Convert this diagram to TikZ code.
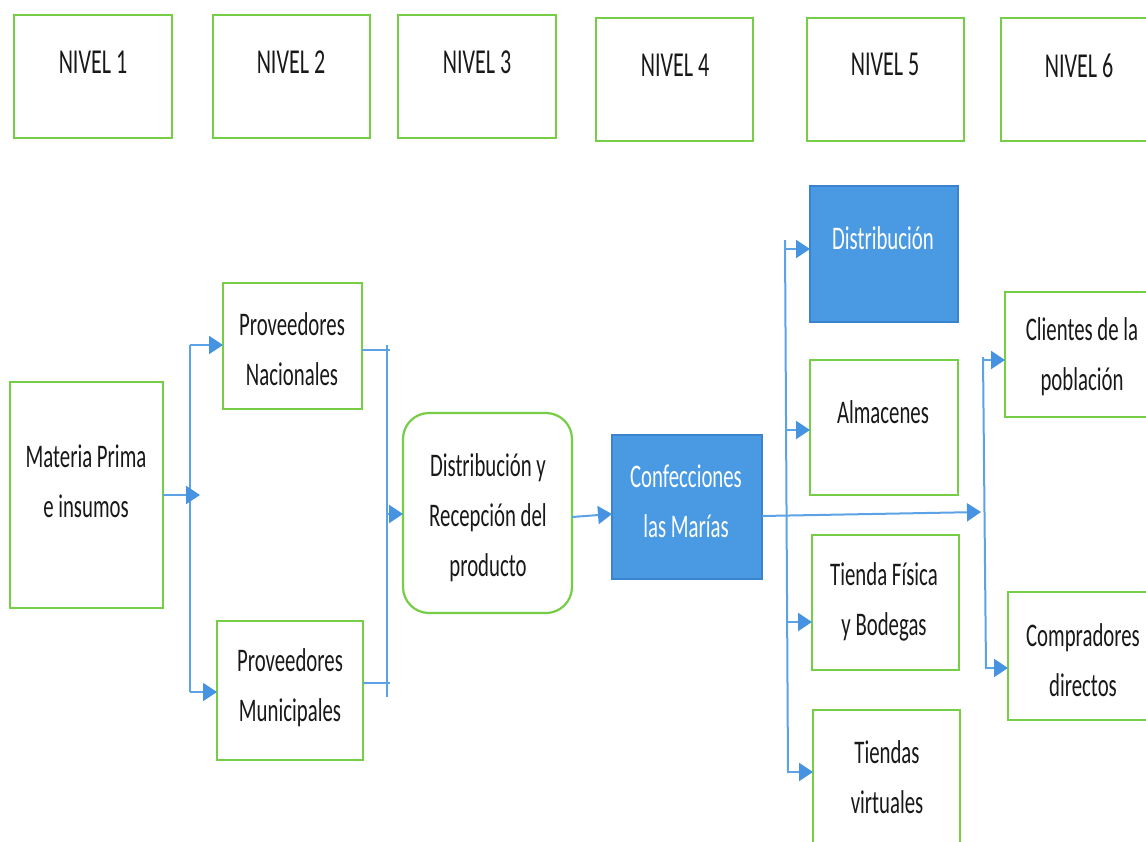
\documentclass[tikz,border=0pt]{standalone}
\usepackage{fontspec}
\setmainfont{Carlito}[FakeStretch=0.63]
\usetikzlibrary{arrows.meta}
\definecolor{boxgreen}{RGB}{118,206,70}
\definecolor{fillblue}{RGB}{73,154,226}
\definecolor{edgeblue}{RGB}{58,132,205}
\definecolor{lineblue}{RGB}{92,162,230}
\definecolor{tipblue}{RGB}{70,148,225}
\definecolor{ink}{RGB}{25,25,25}
\begin{document}
\begin{tikzpicture}[x=1pt,y=-1pt,
  box/.style={draw=boxgreen, line width=2.2pt, fill=white, inner sep=0pt, outer sep=0pt, anchor=north west},
  bluebox/.style={draw=edgeblue, line width=1.6pt, fill=fillblue, inner sep=0pt, outer sep=0pt, anchor=north west},
  lbl/.style={text=ink, align=center, inner sep=0pt, font=\fontsize{33}{50}\selectfont},
  wlbl/.style={lbl, text=white},
  nlbl/.style={text=ink, inner sep=0pt, font=\fontsize{35}{40}\selectfont},
  bus/.style={draw=lineblue, line width=2pt},
  arr/.style={draw=lineblue, line width=2pt, -{Triangle[length=14pt,width=18pt,color=tipblue]}}]
\useasboundingbox (0,0) rectangle (1146,841);
\clip (0,0) rectangle (1146,841);

% level headers
\node[box, minimum width=158pt, minimum height=123pt] (n1) at (14,15) {};
\node[box, minimum width=157pt, minimum height=123pt] (n2) at (213,15) {};
\node[box, minimum width=158pt, minimum height=123pt] (n3) at (398,15) {};
\node[box, minimum width=157pt, minimum height=123pt] (n4) at (596,18) {};
\node[box, minimum width=157pt, minimum height=123pt] (n5) at (807,18) {};
\node[box, minimum width=156pt, minimum height=123pt] (n6) at (1001,18) {};
\node[nlbl] (n1t) at (93,62) {NIVEL 1};
\node[nlbl] (n2t) at (291,62) {NIVEL 2};
\node[nlbl] (n3t) at (477,62) {NIVEL 3};
\node[nlbl] (n4t) at (675,65) {NIVEL 4};
\node[nlbl] (n5t) at (885,64) {NIVEL 5};
\node[nlbl] (n6t) at (1079,66) {NIVEL 6};

% chain boxes
\node[box, minimum width=153pt, minimum height=226pt] (mp) at (10,382) {};
\node[box, minimum width=139pt, minimum height=126pt] (pn) at (223,283) {};
\node[box, minimum width=146pt, minimum height=139pt] (pm) at (217,621) {};
\node[box, rounded corners=26pt, minimum width=169pt, minimum height=200pt] (dr) at (403,413) {};
\node[bluebox, minimum width=150pt, minimum height=144pt] (cm) at (612,435) {};
\node[bluebox, minimum width=148pt, minimum height=136pt] (ds) at (810,186) {};
\node[box, minimum width=148pt, minimum height=135pt] (al) at (810,360) {};
\node[box, minimum width=147pt, minimum height=135pt] (tf) at (812,535) {};
\node[box, minimum width=147pt, minimum height=150pt] (tv) at (813,710) {};
\node[box, minimum width=154pt, minimum height=125pt] (cl) at (1005,292) {};
\node[box, minimum width=152pt, minimum height=128pt] (cd) at (1008,592) {};

\node[lbl] (mpt) at (86,481) {Materia Prima\\e insumos};
\node[lbl] (pnt) at (292,349) {Proveedores\\Nacionales};
\node[lbl] (pmt) at (290,688) {Proveedores\\Municipales};
\node[lbl] (drt) at (488,518) {Distribución y\\Recepción del\\producto};
\node[wlbl] (cmt) at (686,501) {Confecciones\\las Marías};
\node[wlbl] (dst) at (883,238) {Distribución};
\node[lbl] (alt) at (883,412) {Almacenes};
\node[lbl] (tft) at (884,602) {Tienda Física\\y Bodegas};
\node[lbl] (tvt) at (887,777) {Tiendas\\virtuales};
\node[lbl] (clt) at (1082,357) {Clientes de la\\población};
\node[lbl] (cdt) at (1083,660) {Compradores\\directos};

% first split: raw material to suppliers
\coordinate (b1top) at (190,345);
\coordinate (b1bot) at (190,692);
\coordinate (b1in) at (200,495);
\draw[bus] (b1top) -- (b1bot);
\draw[arr] (mp.east |- b1in) -- (b1in);
\draw[arr] (b1top) -- (pn.west |- b1top);
\draw[arr] (b1bot) -- (pm.west |- b1bot);

% suppliers merge into distribution
\coordinate (b2top) at (387,345);
\coordinate (b2bot) at (387,697);
\coordinate (b2a) at (390,350);
\coordinate (b2b) at (390,683);
\coordinate (b2m) at (387,514);
\draw[bus] (b2top) -- (b2bot);
\draw[bus] (pn.east |- b2a) -- (b2a);
\draw[bus] (pm.east |- b2b) -- (b2b);
\draw[arr] (b2m) -- (dr.west |- b2m);

% distribution to the workshop and onwards
\draw[arr] (dr.east |- 0,517) -- (cm.west |- 0,514);
\coordinate (b4in) at (981,512);
\draw[arr] (cm.east |- 0,516) -- (b4in);

% channels
\coordinate (b3top) at (785,240);
\coordinate (b3bot) at (788,773);
\draw[bus] (b3top) -- (b3bot);
\coordinate (c1) at (785,249);
\coordinate (c2) at (786,430);
\coordinate (c3) at (787,622);
\coordinate (c4) at (788,772);
\draw[arr] (c1) -- (ds.west |- c1);
\draw[arr] (c2) -- (al.west |- c2);
\draw[arr] (c3) -- (tf.west |- c3);
\draw[arr] (c4) -- (tv.west |- c4);

% customers
\coordinate (b4top) at (983,357);
\coordinate (b4bot) at (986,669);
\draw[bus] (b4top) -- (b4bot);
\coordinate (d1) at (983,360);
\coordinate (d2) at (986,668);
\draw[arr] (d1) -- (cl.west |- d1);
\draw[arr] (d2) -- (cd.west |- d2);
\end{tikzpicture}
\end{document}
